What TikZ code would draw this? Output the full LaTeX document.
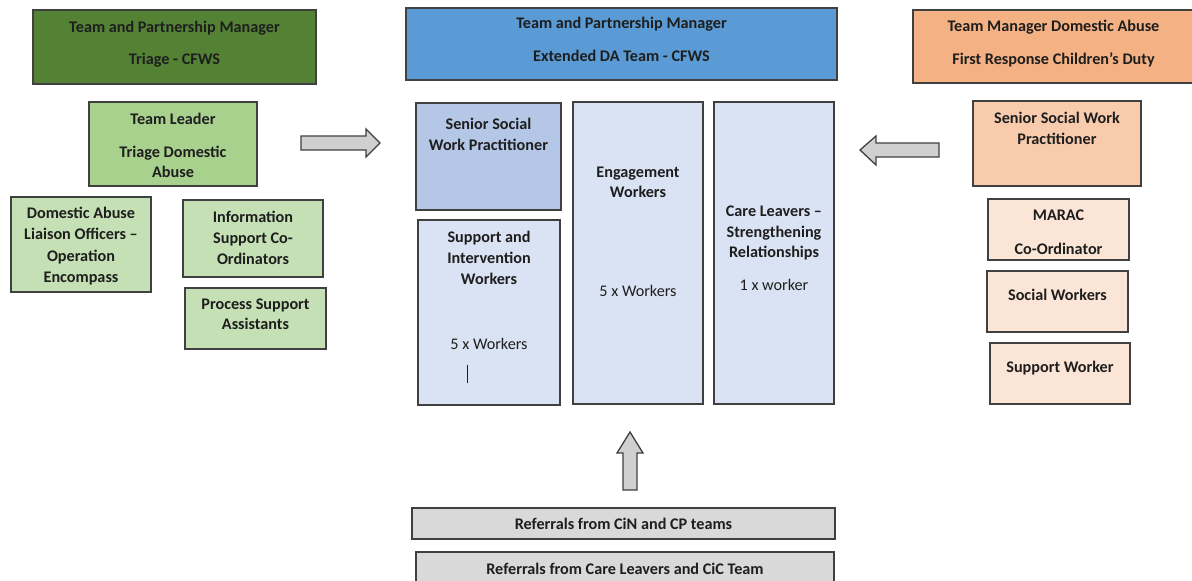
\documentclass[tikz,border=0pt]{standalone}
\usepackage{fontspec}
\setmainfont{Carlito}
\definecolor{dkgreen}{HTML}{548235}
\definecolor{tlgreen}{HTML}{A9D18E}
\definecolor{ltgreen}{HTML}{C5E0B4}
\definecolor{dkblue}{HTML}{5B9BD5}
\definecolor{midblue}{HTML}{B4C7E7}
\definecolor{ltblue}{HTML}{DAE3F3}
\definecolor{dkorange}{HTML}{F4B183}
\definecolor{midorange}{HTML}{F8CBAD}
\definecolor{ltorange}{HTML}{FBE5D6}
\definecolor{refgrey}{HTML}{D9D9D9}
\definecolor{arrowgrey}{HTML}{D0D0D0}
\definecolor{edge}{HTML}{404040}
\definecolor{ink}{HTML}{1E1E1E}
\newcommand\mybox[6]{%
  \node[box, fill=#6, minimum width={(#4-#2)*1pt}, minimum height={(#5-#3)*1pt}]
    (#1) at ({(#2+#4)/2},{(#3+#5)/2}) {};}
\tikzset{
  box/.style={draw=edge, line width=1.3pt, inner sep=0pt, outer sep=0pt, rectangle},
  txt/.style={anchor=base, inner sep=0pt, text=ink, font=\fontsize{16.2}{19}\selectfont\bfseries},
  reg/.style={txt, font=\fontsize{16.2}{19}\selectfont},
  blockarrow/.style={draw=edge, line width=1.3pt, fill=arrowgrey, line join=miter}
}
\begin{document}
\begin{tikzpicture}[x=1pt, y=-1pt]
\useasboundingbox (0,0) rectangle (1192,581);
\clip (0,0) rectangle (1192,581);
\fill[white] (0,0) rectangle (1192,581);

% ---------- left group ----------
\mybox{tpmA}{33}{10}{316}{84}{dkgreen}
\node[txt] (tpmA1) at (174.5,32) {Team and Partnership Manager};
\node[txt] (tpmA2) at (174.5,64) {Triage - CFWS};

\mybox{tl}{89}{102}{257}{186}{tlgreen}
\node[txt] (tl1) at (173,124) {Team Leader};
\node[txt] (tl2) at (173,157) {Triage Domestic};
\node[txt] (tl3) at (173,177) {Abuse};

\mybox{dalo}{11}{197}{151}{292}{ltgreen}
\node[txt] (dalo1) at (81,218) {Domestic Abuse};
\node[txt] (dalo2) at (81,239) {Liaison Officers –};
\node[txt] (dalo3) at (81,261) {Operation};
\node[txt] (dalo4) at (81,282) {Encompass};

\mybox{isc}{183}{200}{323}{277}{ltgreen}
\node[txt] (isc1) at (253,222) {Information};
\node[txt] (isc2) at (253,243) {Support Co-};
\node[txt] (isc3) at (253,264) {Ordinators};

\mybox{psa}{185}{288}{326}{349}{ltgreen}
\node[txt] (psa1) at (255.5,309) {Process Support};
\node[txt] (psa2) at (255.5,329) {Assistants};

% right-pointing block arrow
\draw[blockarrow] (301,136) -- (366,136) -- (366,129) -- (380,143) -- (366,157) -- (366,150) -- (301,150) -- cycle;

% ---------- middle group ----------
\mybox{tpmB}{406}{8}{837}{80}{dkblue}
\node[txt] (tpmB1) at (621.5,28) {Team and Partnership Manager};
\node[txt] (tpmB2) at (621.5,61) {Extended DA Team - CFWS};

\mybox{sswp}{416}{103}{561}{210}{midblue}
\node[txt] (sswp1) at (488.5,129) {Senior Social};
\node[txt] (sswp2) at (488.5,150) {Work Practitioner};

\mybox{siw}{418}{220}{560}{405}{ltblue}
\node[txt] (siw1) at (489,242) {Support and};
\node[txt] (siw2) at (489,263) {Intervention};
\node[txt] (siw3) at (489,284) {Workers};
\node[reg] (siw4) at (489,349) {5 x Workers};
\draw[ink, line width=1pt] (467,365) -- (467,383);

\mybox{eng}{573}{102}{703}{404}{ltblue}
\node[txt] (eng1) at (638,177) {Engagement};
\node[txt] (eng2) at (638,197) {Workers};
\node[reg] (eng3) at (638,296) {5 x Workers};

\mybox{cl}{714}{102}{834}{404}{ltblue}
\node[txt] (cl1) at (774,216) {Care Leavers –};
\node[txt] (cl2) at (774,237) {Strengthening};
\node[txt] (cl3) at (774,257) {Relationships};
\node[reg] (cl4) at (774,290) {1 x worker};

% upward block arrow
\draw[blockarrow] (623,490) -- (623,453) -- (617,453) -- (630,432) -- (643,453) -- (637,453) -- (637,490) -- cycle;

\mybox{refA}{412}{508}{835}{539}{refgrey}
\node[txt] (refA1) at (623.5,529) {Referrals from CiN and CP teams};

\mybox{refB}{416}{552}{834}{590}{refgrey}
\node[txt] (refB1) at (625,574) {Referrals from Care Leavers and CiC Team};

% ---------- right group ----------
\mybox{tmda}{913}{10}{1196}{83}{dkorange}
\node[txt] (tmda1) at (1053.5,31) {Team Manager Domestic Abuse};
\node[txt] (tmda2) at (1053.5,64) {First Response Children’s Duty};

\mybox{sswpR}{973}{101}{1141}{186}{midorange}
\node[txt] (sswpR1) at (1057,123) {Senior Social Work};
\node[txt] (sswpR2) at (1057,144) {Practitioner};

\mybox{marac}{988}{199}{1129}{260}{ltorange}
\node[txt] (marac1) at (1058.5,220) {MARAC};
\node[txt] (marac2) at (1058.5,254) {Co-Ordinator};

\mybox{sw}{987}{271}{1128}{332}{ltorange}
\node[txt] (sw1) at (1057.5,300) {Social Workers};

\mybox{supw}{990}{343}{1130}{404}{ltorange}
\node[txt] (supw1) at (1060,372) {Support Worker};

% left-pointing block arrow
\draw[blockarrow] (939,143) -- (876,143) -- (876,136) -- (860,150) -- (876,165) -- (876,157) -- (939,157) -- cycle;
\end{tikzpicture}
\end{document}
